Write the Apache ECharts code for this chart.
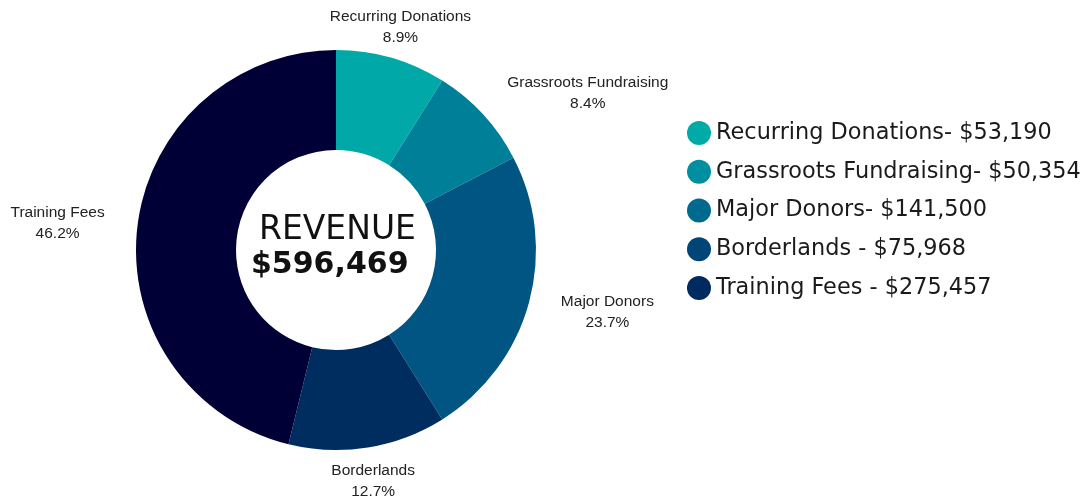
<!DOCTYPE html>
<html>
<head>
<meta charset="utf-8">
<script src="https://cdn.jsdelivr.net/npm/echarts@6/dist/echarts.min.js"></script>
<style>
html,body{margin:0;padding:0;background:#fff;}
#chart{width:1085px;height:502px;}
</style>
</head>
<body>
<div id="chart"></div>
<script>
const categories = ['Recurring Donations', 'Grassroots Fundraising', 'Major Donors', 'Borderlands', 'Training Fees'];
const values = [53190, 50354, 141500, 75968, 275457];
const legendLabels = ['Recurring Donations- $53,190', 'Grassroots Fundraising- $50,354', 'Major Donors- $141,500', 'Borderlands - $75,968', 'Training Fees - $275,457'];
const sliceColors = ['#00a9a8', '#007f99', '#005582', '#002d5f', '#000036'];
const legendColors = ['#00aaa8', '#008fa0', '#006a8e', '#004577', '#002a60'];
const centeredLabels = [0, 3];

const total = values.reduce((a, b) => a + b, 0);

const chart = echarts.init(document.getElementById('chart'));
chart.setOption({
  animation: false,
  legend: {
    orient: 'vertical',
    left: 687,
    top: 121,
    padding: 0,
    itemWidth: 24,
    itemHeight: 24,
    itemGap: 14.75,
    icon: 'circle',
    selectedMode: false,
    textStyle: { fontFamily: 'DejaVu Sans', fontSize: 22.4, color: '#1a1a1a', lineHeight: 24 },
    formatter: name => legendLabels[categories.indexOf(name)],
    data: categories.map((c, i) => ({ name: c, itemStyle: { color: legendColors[i] } }))
  },
  graphic: [
    { type: 'text', left: 259, top: 214, style: { text: 'REVENUE', fontFamily: 'DejaVu Sans', fontSize: 33, fill: '#111' } },
    { type: 'text', left: 251, top: 250, style: { text: '$' + total.toLocaleString('en-US'), fontFamily: 'DejaVu Sans', fontWeight: 'bold', fontSize: 30, fill: '#111' } }
  ],
  series: [{
    type: 'pie',
    center: [336, 250],
    radius: [100, 200],
    startAngle: 90,
    avoidLabelOverlap: false,
    emphasis: { disabled: true },
    label: {
      show: true,
      position: 'outside',
      distanceToLabelLine: 0,
      fontFamily: 'Liberation Sans',
      fontSize: 15.5,
      lineHeight: 21,
      color: '#222',
      formatter: p => p.name + '\n' + (p.value / total * 100).toFixed(1) + '%'
    },
    labelLine: { show: false, length: 33, length2: 0 },
    labelLayout: p => {
      const w = p.labelRect.width;
      if (centeredLabels.indexOf(p.dataIndex) >= 0) return { align: 'center', dy: 1.5 };
      return { align: 'center', dy: 1.5, dx: p.align === 'left' ? w / 2 : -w / 2 };
    },
    data: categories.map((c, i) => ({ name: c, value: values[i], itemStyle: { color: sliceColors[i] } }))
  }]
});
</script>
</body>
</html>
